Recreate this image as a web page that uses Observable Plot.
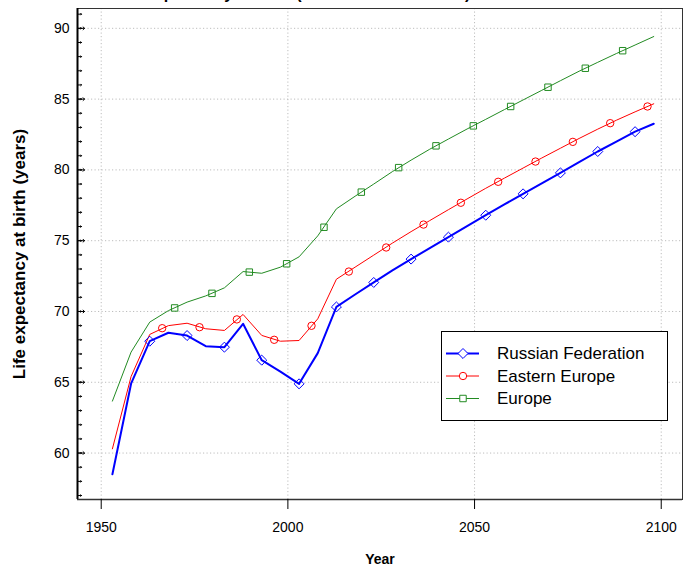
<!DOCTYPE html>
<html>
<head>
<meta charset="utf-8">
<script src="https://cdn.jsdelivr.net/npm/d3@7"></script>
<script src="https://cdn.jsdelivr.net/npm/@observablehq/plot@0.6"></script>
<style>
  body { margin: 0; background: #fff; font-family: "Liberation Sans", Arial, sans-serif; }
  #wrap { position: relative; width: 695px; height: 570px; overflow: hidden; background: #fff; }
  #wrap svg.plot { position: absolute; left: 0; top: 0; }
  #title { position: absolute; left: 113px; top: -14px; font-weight: bold; font-size: 16px; line-height: 16px; white-space: nowrap; color: #000; }
  #legend { position: absolute; left: 441px; top: 331px; }
</style>
</head>
<body>
<div id="wrap">
  <div id="title">Life expectancy at birth (both sexes combined)</div>
  <div id="legend"></div>
</div>
<script>
// ---- data ----
const years = [1953, 1958, 1963, 1968, 1973, 1978, 1983, 1988, 1993, 1998,
               2003, 2008, 2013, 2018, 2023, 2028, 2033, 2038, 2043, 2048,
               2053, 2058, 2063, 2068, 2073, 2078, 2083, 2088, 2093, 2098];

const russia = [58.5, 64.9, 67.9, 68.5, 68.3, 67.55, 67.48, 69.13, 66.56, 65.75,
                64.89, 67.06, 70.32, 71.2, 72.05, 72.9, 73.7, 74.47, 75.25, 76.03,
                76.8, 77.56, 78.31, 79.05, 79.79, 80.55, 81.3, 82.0, 82.7, 83.26];

const easternEurope = [60.3, 65.4, 68.38, 69.0, 69.17, 68.78, 68.66, 69.79, 68.31, 67.9,
                       67.95, 69.48, 72.28, 73.13, 73.98, 74.83, 75.64, 76.42, 77.19, 77.95,
                       78.7, 79.42, 80.13, 80.84, 81.53, 82.22, 82.88, 83.51, 84.1, 84.67];

const europe = [63.67, 67.13, 69.25, 70.06, 70.66, 71.1, 71.67, 72.82, 72.7, 73.13,
                73.86, 75.34, 77.25, 78.14, 79.0, 79.88, 80.69, 81.46, 82.18, 82.89,
                83.57, 84.26, 84.94, 85.62, 86.3, 86.97, 87.6, 88.22, 88.82, 89.42];

// marker positions as drawn on the lines
const russiaMarkerYears = [1963, 1973, 1983, 1993, 2003, 2013, 2023, 2033, 2043, 2053, 2063, 2073, 2083, 2093];
const russiaMarkers = [67.9, 68.3, 67.48, 66.56, 64.89, 70.32, 72.05, 73.7, 75.25, 76.8, 78.31, 79.79, 81.3, 82.7];

const eeMarkerYears = [1966.33, 1976.33, 1986.33, 1996.33, 2006.33, 2016.33, 2026.33,
                       2036.33, 2046.33, 2056.33, 2066.33, 2076.33, 2086.33, 2096.33];
const eeMarkers = [68.82, 68.89, 69.44, 68.0, 68.99, 72.82, 74.52, 76.14, 77.68, 79.16, 80.59, 81.98, 83.3, 84.48];

const euMarkerYears = [1969.67, 1979.67, 1989.67, 1999.67, 2009.67, 2019.67, 2029.67,
                       2039.67, 2049.67, 2059.67, 2069.67, 2079.67, 2089.67];
const euMarkers = [70.25, 71.28, 72.78, 73.37, 75.95, 78.43, 80.16, 81.7, 83.11, 84.48, 85.84, 87.18, 88.42];

const seriesNames = ["Russian Federation", "Eastern Europe", "Europe"];
const seriesColors = ["#0000ff", "#ff0000", "#228b22"];
const seriesWidths = [2, 1, 1];
const seriesSymbols = ["diamond2", "circle", "square2"];

const xTicks = [1950, 2000, 2050, 2100];
const yTicks = [60, 65, 70, 75, 80, 85, 90];
const yMinorTicks = d3.range(57, 92);

const xDomain = [1943.65, 2105.7];
const yDomain = [56.72, 91.4];

const xLabel = "Year";
const yLabel = "Life expectancy at birth (years)";

const lineSets = [
  {vals: russia, mYears: russiaMarkerYears, mVals: russiaMarkers, r: 4.5},
  {vals: easternEurope, mYears: eeMarkerYears, mVals: eeMarkers, r: 3.7},
  {vals: europe, mYears: euMarkerYears, mVals: euMarkers, r: 4.1}
];

const grid = {stroke: "#bdbdbd", strokeOpacity: 1, strokeDasharray: "1.2,2.3", strokeWidth: 1};

const marks = [
  Plot.gridX(xTicks, grid),
  Plot.gridY(yTicks, grid)
];

// draw Europe, Eastern Europe, then Russia on top
[2, 1, 0].forEach(i => {
  const s = lineSets[i];
  marks.push(Plot.line(s.vals, {x: (d, j) => years[j], y: d => d, stroke: seriesColors[i], strokeWidth: seriesWidths[i], curve: "linear"}));
  marks.push(Plot.dot(s.mVals, {x: (d, j) => s.mYears[j], y: d => d, symbol: seriesSymbols[i], r: s.r, stroke: seriesColors[i], fill: "none", strokeWidth: 1}));
});

marks.push(
  Plot.frame({stroke: "#333", strokeWidth: 1}),
  Plot.ruleX([xDomain[0]], {stroke: "#000", strokeWidth: 2}),
  Plot.ruleY([yDomain[0]], {stroke: "#333", strokeWidth: 1.3}),
  Plot.vector(yMinorTicks, {y: d => d, frameAnchor: "left", rotate: 90, length: 4, anchor: "start", stroke: "#000", strokeWidth: 1}),
  Plot.vector(yTicks, {y: d => d, frameAnchor: "left", rotate: 90, length: 7, anchor: "start", stroke: "#000", strokeWidth: 1}),
  Plot.axisY(yTicks, {tickSize: 0, tickPadding: 8, fontSize: 14, label: null}),
  Plot.axisX(xTicks, {tickSize: 10, tickPadding: 13, fontSize: 14, label: null, tickFormat: d => String(d)}),
  Plot.text([yLabel], {text: d => d, frameAnchor: "left", textAnchor: "middle", lineAnchor: "middle", rotate: -90, dx: -58, fontWeight: "bold", fontSize: 17}),
  Plot.text([xLabel], {text: d => d, frameAnchor: "bottom", textAnchor: "middle", lineAnchor: "middle", dy: 60, fontWeight: "bold", fontSize: 14})
);

const chart = Plot.plot({
  width: 695,
  height: 570,
  marginLeft: 77,
  marginRight: 13,
  marginTop: 8,
  marginBottom: 71,
  x: {domain: xDomain, axis: null},
  y: {domain: yDomain, axis: null},
  style: {fontFamily: "'Liberation Sans', Arial, sans-serif", fontSize: "14px", background: "transparent", color: "#000"},
  marks
});
chart.classList.add("plot");
const wrap = document.getElementById("wrap");
wrap.insertBefore(chart, wrap.firstChild);

// ---- legend ----
const lw = 227, lh = 90;
const leg = d3.select("#legend").append("svg").attr("width", lw).attr("height", lh)
  .style("font-family", "'Liberation Sans', Arial, sans-serif");
leg.append("rect").attr("x", 0.5).attr("y", 0.5).attr("width", lw - 1).attr("height", lh - 1)
  .attr("fill", "#fff").attr("stroke", "#000");
const symMap = {diamond2: d3.symbolDiamond2, circle: d3.symbolCircle, square2: d3.symbolSquare2};
const symSizes = [Math.PI * 4.5 * 4.5, Math.PI * 3.7 * 3.7, Math.PI * 4.1 * 4.1];
seriesNames.forEach((name, i) => {
  const cy = 22.5 + i * 22.5;
  const g = leg.append("g");
  g.append("line").attr("x1", 5).attr("x2", 38).attr("y1", cy).attr("y2", cy)
    .attr("stroke", seriesColors[i]).attr("stroke-width", seriesWidths[i]);
  g.append("path").attr("d", d3.symbol(symMap[seriesSymbols[i]], symSizes[i])())
    .attr("transform", `translate(22,${cy})`).attr("fill", "#fff").attr("stroke", seriesColors[i]);
  g.append("text").attr("x", 56).attr("y", cy).attr("dy", "0.35em").attr("font-size", 17)
    .attr("fill", "#000").text(name);
});
</script>
</body>
</html>
